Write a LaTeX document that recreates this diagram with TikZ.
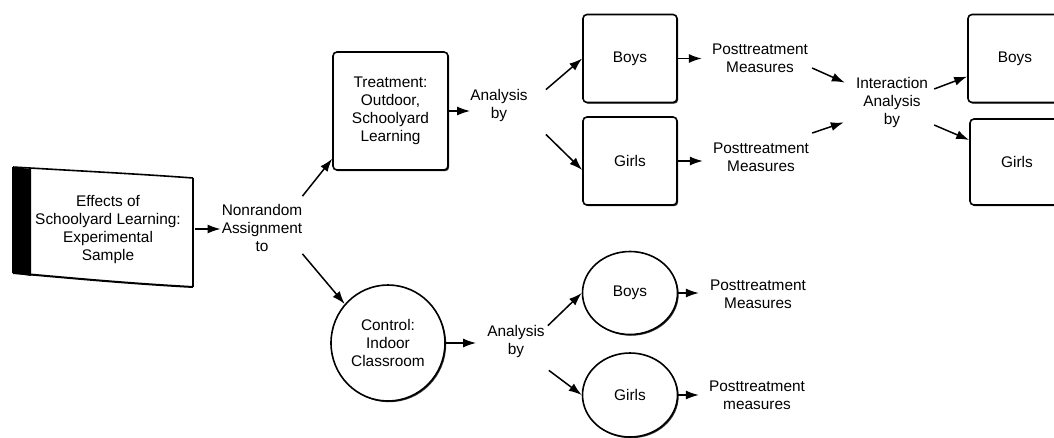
\documentclass[tikz,border=0pt]{standalone}
\usepackage{fontspec}
\setmainfont{Liberation Sans}
\usetikzlibrary{arrows.meta,shapes.geometric,shadows}
\begin{document}
\begin{tikzpicture}[x=1pt,y=-1pt,
  txt/.style={inner sep=0pt,align=center,font=\fontsize{15.4}{18}\selectfont},
  sqbox/.style={txt,draw,line width=1.6pt,fill=white,rounded corners=4pt,
    minimum width=94pt,minimum height=88pt,
    drop shadow={shadow xshift=1.2pt,shadow yshift=-1.2pt,fill=black!80,opacity=1}},
  rdbox/.style={txt,draw,ellipse,line width=1.6pt,fill=white,
    drop shadow={shadow xshift=1.2pt,shadow yshift=-1.2pt,fill=black!80,opacity=1}},
  arr/.style={line width=1.5pt,-{Latex[length=13pt,width=9pt]}}]

\fill[white] (0,0) rectangle (1054,437);
\useasboundingbox (0,0) rectangle (1054,437);

% curved sample sheet with a dark spine
\fill[black] (13,167) -- (31,169) -- (31,276) -- (13,273) -- cycle;
\draw[line width=1.6pt] (13,167) .. controls (80,171) and (140,174) .. (193,178);
\draw[line width=2.4pt] (193,178) -- (193,287);
\draw[line width=2pt] (13,273) .. controls (60,277) and (120,283) .. (193,287);
\draw[line width=1.6pt] (13,167) -- (13,273);
\node[txt] (sample) at (108,230) {Effects of\\Schoolyard Learning:\\Experimental\\Sample};
\coordinate (sampleR) at (195,229);

% left column
\node[txt] (nonrand) at (262,228) {Nonrandom\\Assignment\\to};
\node[sqbox,minimum width=115pt,minimum height=118pt] (treat) at (390.5,111)
  {Treatment:\\Outdoor,\\Schoolyard\\Learning};
\node[rdbox,minimum width=114pt,minimum height=116pt] (ctrl) at (388,343)
  {Control:\\Indoor\\Classroom};

% treatment branch
\node[txt] (an1) at (499,106) {Analysis\\by};
\node[sqbox] (boy1) at (630,58.5) {Boys};
\node[sqbox] (girl1) at (630,161) {Girls};
\node[txt] (pt1) at (760,58) {Posttreatment\\Measures};
\node[txt] (pt2) at (761,157) {Posttreatment\\Measures};
\node[txt] (inter) at (892,103) {Interaction\\Analysis\\by};
\node[sqbox] (boy2) at (1015,58.5) {Boys};
\node[sqbox,minimum height=86pt] (girl2) at (1017,162) {Girls};

% control branch
\node[txt] (an2) at (516,342) {Analysis\\by};
\node[rdbox,minimum width=95pt,minimum height=83pt] (boyc) at (630,293) {Boys};
\node[rdbox,minimum width=95pt,minimum height=84pt] (girlc) at (630,395) {Girls};
\node[txt] (pt3) at (758,294) {Posttreatment\\Measures};
\node[txt] (pt4) at (757,395.5) {Posttreatment\\measures};

% connectors
\draw[arr,shorten >=1pt] (sampleR) -- (sampleR -| nonrand.west);
\draw[arr] ([yshift=8pt]nonrand.north east) -- ([yshift=12pt]treat.south west);
\draw[arr] ([yshift=-2pt]nonrand.south east) -- (ctrl.138);
\draw[arr,shorten >=0pt] (treat.east) -- (treat.east -| an1.west);
\draw[arr] ([xshift=18pt]an1.north east) -- (boy1.west);
\draw[arr] ([xshift=18pt,yshift=-12pt]an1.south east) -- ([yshift=-9pt]girl1.west);
\draw[arr,shorten >=10pt] (boy1.east) -- (boy1.east -| pt1.west);
\draw[arr,shorten >=10pt] (girl1.east) -- (girl1.east -| pt2.west);
\draw[arr] ([xshift=4pt,yshift=-10pt]pt1.east) -- ([xshift=-11pt,yshift=-5pt]inter.north west);
\draw[arr] ([xshift=3pt,yshift=24pt]pt2.east) -- ([xshift=-12pt,yshift=6pt]inter.south west);
\draw[arr] ([xshift=6pt,yshift=14pt]inter.east) -- ([yshift=-18pt]boy2.west);
\draw[arr] ([xshift=6pt,yshift=-22pt]inter.east) -- ([yshift=22pt]girl2.west);
\draw[arr,shorten >=11pt] (ctrl.east) -- (ctrl.east -| an2.west);
\draw[arr] ([xshift=3pt]an2.north east) -- (boyc.west);
\draw[arr] ([xshift=4pt,yshift=-12pt]an2.south east) -- (girlc.west);
\draw[arr,shorten >=11pt] (boyc.east) -- (boyc.east -| pt3.west);
\draw[arr,shorten >=10pt] (girlc.east) -- (girlc.east -| pt4.west);
\end{tikzpicture}
\end{document}
